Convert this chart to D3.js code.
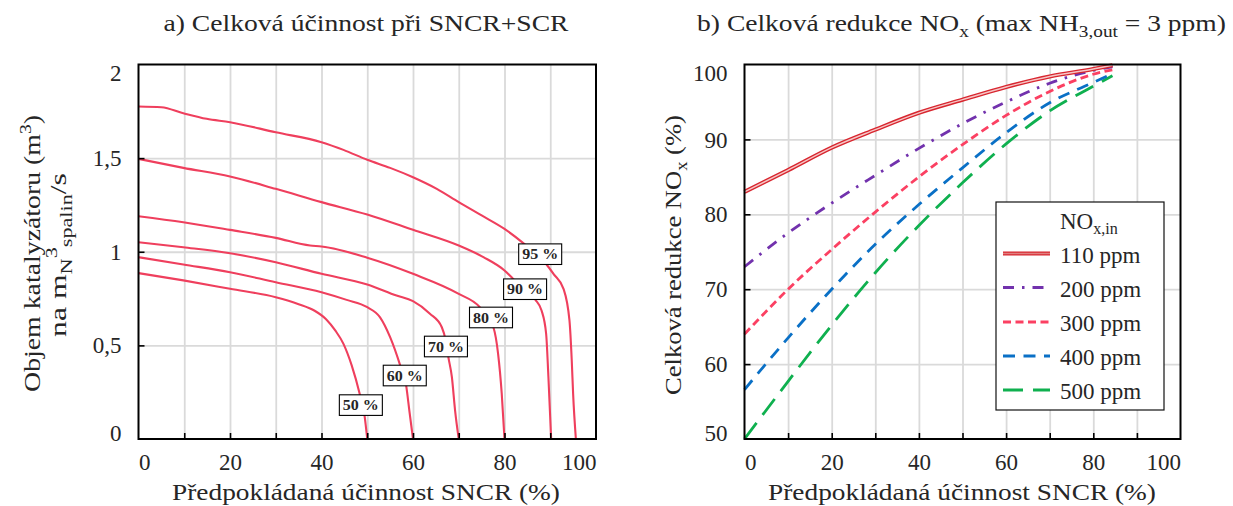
<!DOCTYPE html>
<html><head><meta charset="utf-8">
<script src="https://cdn.jsdelivr.net/npm/d3@7"></script>
<style>
body{margin:0;background:#fff}
svg{display:block}
text{font-family:"Liberation Serif","Times New Roman",serif;fill:#262626}
</style>
</head><body>
<svg id="c" width="1233" height="506"></svg>
<script>
// ---------- DATA: panel a) contours (x = SNCR %, y = catalyst volume) ----------
const contourNames = ["50 %","60 %","70 %","80 %","90 %","95 %"];
const contour50 = [[0,0.886],[9.8,0.847],[20,0.802],[30,0.757],[35,0.72],[38.5,0.685],[41,0.640],[43,0.580],[44.8,0.508],[46.6,0.393],[48.4,0.236],[49.4,0.126],[50,0]];
const contour60 = [[0,0.971],[9.8,0.932],[20,0.891],[30,0.837],[40,0.784],[45.5,0.743],[50,0.704],[52.8,0.650],[55,0.544],[57.2,0.393],[58.5,0.286],[59.2,0.152],[60,0]];
const contour70 = [[0,1.051],[9.8,1.024],[20,0.992],[30,0.944],[40,0.882],[50,0.825],[56.4,0.766],[60,0.736],[63.7,0.669],[66.3,0.597],[67.2,0.52],[67.7,0.441],[68.5,0.330],[69.2,0.152],[70,0]];
const contour80 = [[0,1.190],[9.8,1.158],[20,1.117],[30,1.074],[37.5,1.033],[40,1.028],[50,0.968],[60,0.882],[70,0.775],[74.6,0.704],[77.6,0.594],[78.6,0.455],[79.4,0.241],[80,0]];
const contour90 = [[0,1.496],[9.8,1.448],[20,1.402],[30,1.336],[40,1.265],[50,1.199],[60,1.117],[70,1.033],[75.4,0.971],[80,0.900],[81.9,0.855],[86.7,0.745],[88.1,0.686],[89.1,0.562],[89.6,0.330],[90.2,0]];
const contour95 = [[0,1.776],[5,1.772],[9.8,1.740],[14.9,1.710],[20,1.692],[30,1.638],[40,1.585],[44.8,1.544],[50,1.491],[55,1.448],[60,1.398],[65.2,1.336],[70,1.265],[75,1.194],[80,1.122],[84.1,1.046],[89.2,0.932],[90.7,0.882],[92.9,0.802],[94.2,0.633],[94.7,0.419],[95.0,0.241],[95.6,0]];
const contours = [contour50, contour60, contour70, contour80, contour90, contour95];
const contourLabelAt = [[48.6,0.181],[58.2,0.339],[67.2,0.494],[77.05,0.649],[84.5,0.80],[87.8,0.987]];
const aXTicks = [0,20,40,60,80,100];
const aYTicks = [0,0.5,1,1.5,2];

// ---------- DATA: panel b) total NOx reduction ----------
const sncr = [0,10,20,30,40,50,60,70,80,84.4];
const red110 = [83.0,85.9,88.9,91.3,93.55,95.3,97.0,98.4,99.4,99.9];
const red200 = [73.0,77.5,81.5,85.2,88.8,92.1,95.0,97.5,99.2,99.7];
const red300 = [64.0,70.0,75.3,80.3,85.0,89.3,93.2,96.4,98.7,99.3];
const red400 = [56.6,63.5,70.0,76.0,81.3,86.2,90.9,94.9,97.6,98.8];
const red500 = [50.0,57.7,65.2,72.2,78.5,84.2,89.4,93.8,97.1,98.5];
const seriesNames = ["110 ppm","200 ppm","300 ppm","400 ppm","500 ppm"];
const bXTicks = [0,20,40,60,80,100];
const bYTicks = [50,60,70,80,90,100];

// ---------- helpers ----------
const svg = d3.select("#c");
const TXT = "#262626";
function fit(t, target){ const w = t.node().getComputedTextLength(); t.attr("transform", `scale(${target/w},1)`); return t; }
function addRich(t, parts){ // parts: [text, kind] kind: null|'sub'|'sup'
  let shift = 0;
  parts.forEach(([s,k])=>{
    const want = k==='sub'?5.5:(k==='sup'?-9:0);
    const sp = t.append("tspan").text(s);
    if(want-shift!==0) sp.attr("dy", want-shift);
    if(k) sp.attr("font-size", "0.7em");
    shift = want;
  });
  return t;
}
const GRID="#dadada";
const TICKFS = 23;

function panelFrame(x, y, xGrid, yGrid){
  const [x0,x1]=x.range(), [y0,y1]=y.range();
  const g = svg.append("g");
  const gx = g.append("g").attr("transform",`translate(0,${y0})`)
    .call(d3.axisBottom(x).tickValues(xGrid).tickSize(-(y0-y1)).tickFormat(""));
  gx.select(".domain").remove();
  gx.selectAll("line").attr("stroke",GRID).attr("stroke-width",1.8);
  const gy = g.append("g").attr("transform",`translate(${x0},0)`)
    .call(d3.axisLeft(y).tickValues(yGrid).tickSize(-(x1-x0)).tickFormat(""));
  gy.select(".domain").remove();
  gy.selectAll("line").attr("stroke",GRID).attr("stroke-width",1.8);
  return g;
}
function panelAxes(x, y, xGrid, yGrid, xTicks, yTicks, yFmt){
  const [x0,x1]=x.range(), [y0,y1]=y.range();
  const g = svg.append("g");
  const tx = g.append("g").attr("transform",`translate(0,${y0})`)
    .call(d3.axisBottom(x).tickValues(xGrid).tickSize(-6).tickFormat(""));
  tx.select(".domain").remove();
  tx.selectAll("line").attr("stroke","#000").attr("stroke-width",1.6);
  const ty = g.append("g").attr("transform",`translate(${x0},0)`)
    .call(d3.axisLeft(y).tickValues(yGrid).tickSize(-6).tickFormat(""));
  ty.select(".domain").remove();
  ty.selectAll("line").attr("stroke","#000").attr("stroke-width",1.6);
  g.append("rect").attr("x",x0).attr("y",y1).attr("width",x1-x0).attr("height",y0-y1)
    .attr("fill","none").attr("stroke","#000").attr("stroke-width",2);
  const lx = g.append("g").attr("transform",`translate(0,${y0})`)
    .call(d3.axisBottom(x).tickValues(xTicks).tickSize(0).tickFormat(d3.format("d")));
  lx.select(".domain").remove();
  lx.selectAll("text").attr("y",31).attr("dy",null).attr("font-size",TICKFS)
    .attr("font-family","Liberation Serif").attr("fill",TXT)
    .attr("text-anchor",(d,i,n)=> i===0?"start":(i===n.length-1?"end":"middle"));
  const ly = g.append("g").attr("transform",`translate(${x0},0)`)
    .call(d3.axisLeft(y).tickValues(yTicks).tickSize(0).tickFormat(yFmt));
  ly.select(".domain").remove();
  const ymin=y.domain()[0], ymax=y.domain()[1];
  ly.selectAll("text").attr("x",-17).attr("dy",null).attr("font-size",TICKFS)
    .attr("font-family","Liberation Serif").attr("fill",TXT)
    .attr("y", d => d===ymax ? 16 : (d===ymin ? 1 : 7.6));
  return g;
}

// ---------- PANEL A ----------
const ax = d3.scaleLinear().domain([0,100]).range([138.5,596]);
const ay = d3.scaleLinear().domain([0,2]).range([439,64.5]);
panelFrame(ax, ay, d3.range(10,100,10), [0.5,1,1.5]);
const lineA = d3.line().x(d=>ax(d[0])).y(d=>ay(d[1])).curve(d3.curveMonotoneX);
svg.append("g").selectAll("path").data(contours).join("path")
  .attr("d", lineA).attr("fill","none").attr("stroke","#ef3f5d").attr("stroke-width",2.1);
panelAxes(ax, ay, d3.range(10,100,10), [0.5,1,1.5], aXTicks, aYTicks, d=>String(d).replace(".",","));
const boxes = svg.append("g").selectAll("g").data(contourLabelAt).join("g")
  .attr("transform", d=>`translate(${ax(d[0])},${ay(d[1])})`);
boxes.append("rect").attr("x",-21.5).attr("y",-10.3).attr("width",43).attr("height",20.6)
  .attr("fill","#fff").attr("stroke","#000").attr("stroke-width",1.1);
boxes.append("text").attr("text-anchor","middle").attr("y",5.2).attr("font-size",14)
  .attr("font-weight","bold").attr("font-family","Liberation Serif")
  .text((d,i)=>contourNames[i]).each(function(){ fit(d3.select(this),36); });

// titles / labels panel A
{
  const g = svg.append("g").attr("transform","translate(366,31)");
  fit(g.append("text").attr("text-anchor","middle").attr("font-size",24).text("a) Celková účinnost při SNCR+SCR"),405);
  const g2 = svg.append("g").attr("transform","translate(366,500)");
  fit(g2.append("text").attr("text-anchor","middle").attr("font-size",24).text("Předpokládaná účinnost SNCR (%)"),388);
  const g3 = svg.append("g").attr("transform","translate(40,253.5) rotate(-90)");
  const t3 = g3.append("text").attr("text-anchor","middle").attr("font-size",24);
  addRich(t3, [["Objem katalyzátoru (m",null],["3","sup"],[")",null]]);
  fit(t3,277);
  const g4 = svg.append("g").attr("transform","translate(66,255) rotate(-90)");
  const t4 = g4.append("text").attr("text-anchor","middle").attr("font-size",24);
  addRich(t4, [["na m",null],["N","sub"],["3","sup"],["spalin","sub"],["/s",null]]);
  fit(t4,164);
}

// ---------- PANEL B ----------
const bx = d3.scaleLinear().domain([0,100]).range([744.5,1180.5]);
const by = d3.scaleLinear().domain([50,100]).range([439,64.5]);
panelFrame(bx, by, d3.range(10,100,10), [60,70,80,90]);
const seriesVals = [red110, red200, red300, red400, red500];
const styles = [
  {c:"#d8262f", w:4.2, dash:null, inner:"#f6c6c6"},
  {c:"#7232ad", w:2.8, dash:"11,8,2.5,8"},
  {c:"#fb4062", w:2.8, dash:"8,4.5"},
  {c:"#0a70c6", w:2.8, dash:"12,8.5"},
  {c:"#0fb04f", w:2.8, dash:"20,10"}
];
const lineB = d3.line().x(d=>bx(d[0])).y(d=>by(d[1])).curve(d3.curveMonotoneX);
const gb = svg.append("g");
[4,3,2,1,0].forEach(i=>{
  const pts = sncr.map((v,j)=>[v, seriesVals[i][j]]);
  const s = styles[i];
  gb.append("path").attr("d", lineB(pts)).attr("fill","none").attr("stroke",s.c)
    .attr("stroke-width",s.w).attr("stroke-dasharray",s.dash);
  if(s.inner) gb.append("path").attr("d", lineB(pts)).attr("fill","none").attr("stroke",s.inner).attr("stroke-width",1.4);
});
panelAxes(bx, by, d3.range(10,100,10), [60,70,80,90], bXTicks, bYTicks, d3.format("d"));

// legend
{
  const lg = svg.append("g");
  lg.append("rect").attr("x",996).attr("y",202).attr("width",168).attr("height",208)
    .attr("fill","#fff").attr("stroke","#111").attr("stroke-width",1.2);
  const h = lg.append("text").attr("x",1060).attr("y",228.5).attr("font-size",TICKFS);
  addRich(h, [["NO",null],["x,in","sub"]]);
  const base = [262.5,296.5,331,365,399];
  seriesNames.forEach((n,i)=>{
    const s = styles[i], yy = base[i]-9;
    lg.append("line").attr("x1",1003).attr("x2",1050).attr("y1",yy).attr("y2",yy)
      .attr("stroke",s.c).attr("stroke-width",s.w).attr("stroke-dasharray",s.dash);
    if(s.inner) lg.append("line").attr("x1",1003).attr("x2",1050).attr("y1",yy).attr("y2",yy)
      .attr("stroke","#e08080").attr("stroke-width",1.6);
    lg.append("text").attr("x",1060).attr("y",base[i]).attr("font-size",TICKFS).text(n);
  });
}

// titles / labels panel B
{
  const g = svg.append("g").attr("transform","translate(961.5,31)");
  const t = g.append("text").attr("text-anchor","middle").attr("font-size",24);
  addRich(t, [["b) Celková redukce NO",null],["x","sub"],[" (max NH",null],["3,out","sub"],[" = 3 ppm)",null]]);
  fit(t,529);
  const g2 = svg.append("g").attr("transform","translate(962,500)");
  fit(g2.append("text").attr("text-anchor","middle").attr("font-size",24).text("Předpokládaná účinnost SNCR (%)"),388);
  const g3 = svg.append("g").attr("transform","translate(681,255) rotate(-90)");
  const t3 = g3.append("text").attr("text-anchor","middle").attr("font-size",24);
  addRich(t3, [["Celková redukce NO",null],["x","sub"],[" (%)",null]]);
  fit(t3,280);
}
</script>
</body></html>
